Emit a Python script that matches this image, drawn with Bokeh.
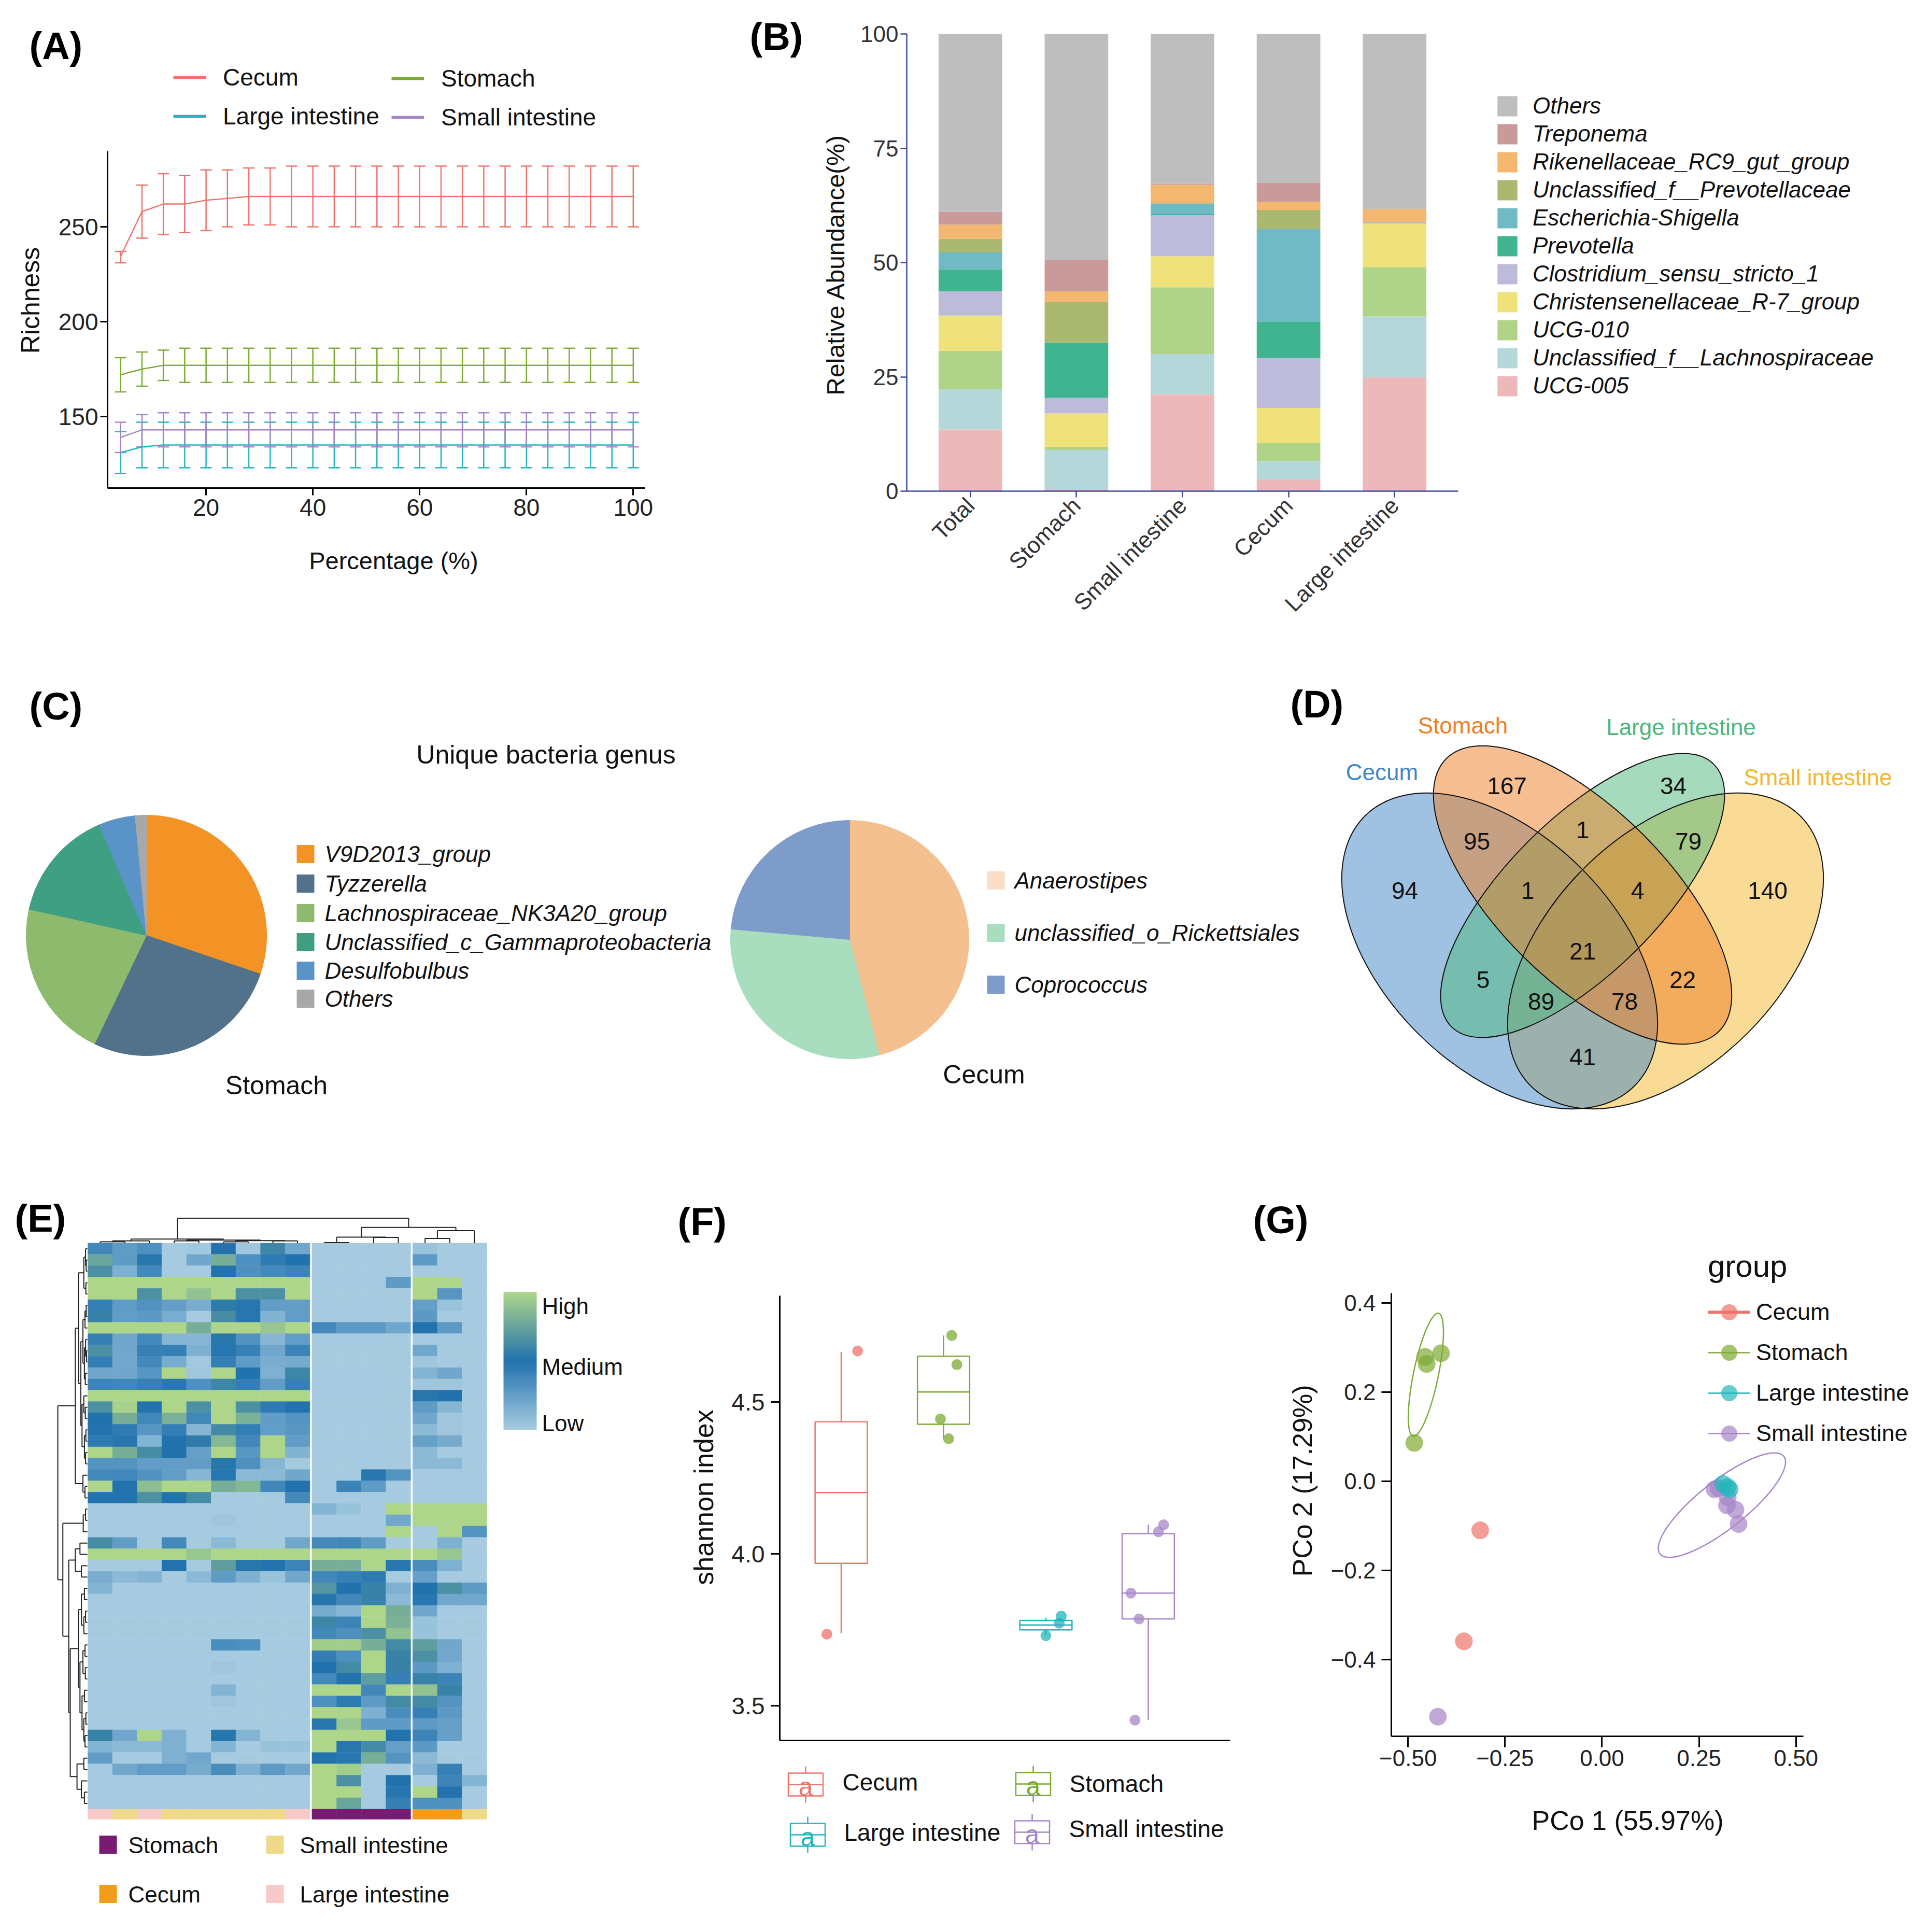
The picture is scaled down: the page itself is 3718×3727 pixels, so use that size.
import numpy as np
from math import pi
from bokeh.plotting import figure
from bokeh.layouts import row, column
from bokeh.models import (Range1d, FixedTicker, Legend, LegendItem, Label, Whisker, TeeHead,
                          ColumnDataSource, LinearColorMapper, ColorBar, CustomJSTickFormatter)
from bokeh.core.properties import value
from bokeh.embed import file_html
from bokeh.resources import INLINE

FONT = "Liberation Sans"

# ================================================================ DATA
tissues = ["Cecum", "Stomach", "Large intestine", "Small intestine"]
tissue_colors = ["#EE746B", "#7CAA32", "#22B6BC", "#A585C8"]
TC = dict(zip(tissues, tissue_colors))

# ---- (A) rarefaction curves
a_pct = [4, 8, 12, 16, 20, 24, 28, 32, 36, 40, 44, 48, 52, 56, 60, 64, 68, 72, 76, 80, 84, 88, 92, 96, 100]
a_cecum_mean = [234.5, 258, 262, 262, 264,
                265, 266, 266, 266, 266,
                266, 266, 266, 266, 266,
                266, 266, 266, 266, 266,
                266, 266, 266, 266, 266]
a_cecum_hi = [237, 272, 278, 277, 280,
              280, 281, 281, 282, 282,
              282, 282, 282, 282, 282,
              282, 282, 282, 282, 282,
              282, 282, 282, 282, 282]
a_cecum_lo = [231, 244, 246, 247, 248,
              250, 251, 251, 250, 250,
              250, 250, 250, 250, 250,
              250, 250, 250, 250, 250,
              250, 250, 250, 250, 250]
a_stomach_mean = [172, 175, 177, 177, 177,
                  177, 177, 177, 177, 177,
                  177, 177, 177, 177, 177,
                  177, 177, 177, 177, 177,
                  177, 177, 177, 177, 177]
a_stomach_hi = [181, 184, 185, 186, 186,
                186, 186, 186, 186, 186,
                186, 186, 186, 186, 186,
                186, 186, 186, 186, 186,
                186, 186, 186, 186, 186]
a_stomach_lo = [163, 166, 169, 168, 168,
                168, 168, 168, 168, 168,
                168, 168, 168, 168, 168,
                168, 168, 168, 168, 168,
                168, 168, 168, 168, 168]
a_large_mean = [131, 134, 135, 135, 135,
                135, 135, 135, 135, 135,
                135, 135, 135, 135, 135,
                135, 135, 135, 135, 135,
                135, 135, 135, 135, 135]
a_large_hi = [142, 147, 147, 147, 147,
              147, 147, 147, 147, 147,
              147, 147, 147, 147, 147,
              147, 147, 147, 147, 147,
              147, 147, 147, 147, 147]
a_large_lo = [120, 123, 123, 123, 123,
              123, 123, 123, 123, 123,
              123, 123, 123, 123, 123,
              123, 123, 123, 123, 123,
              123, 123, 123, 123, 123]
a_small_mean = [139, 143, 143, 143, 143,
                143, 143, 143, 143, 143,
                143, 143, 143, 143, 143,
                143, 143, 143, 143, 143,
                143, 143, 143, 143, 143]
a_small_hi = [147, 151, 152, 152, 152,
              152, 152, 152, 152, 152,
              152, 152, 152, 152, 152,
              152, 152, 152, 152, 152,
              152, 152, 152, 152, 152]
a_small_lo = [131, 134, 134, 134, 134,
              134, 134, 134, 134, 134,
              134, 134, 134, 134, 134,
              134, 134, 134, 134, 134,
              134, 134, 134, 134, 134]

# ---- (B) relative abundance (stack order bottom -> top)
b_cats = ["Total", "Stomach", "Small intestine", "Cecum", "Large intestine"]
b_genera = ["UCG-005", "Unclassified_f__Lachnospiraceae", "UCG-010", "Christensenellaceae_R-7_group",
            "Clostridium_sensu_stricto_1", "Prevotella", "Escherichia-Shigella",
            "Unclassified_f__Prevotellaceae", "Rikenellaceae_RC9_gut_group", "Treponema", "Others"]
b_ucg005 = [13.5, 0.45, 21.2, 2.6, 24.9]
b_lachno = [8.9, 8.55, 8.8, 4.0, 13.3]
b_ucg010 = [8.3, 0.7, 14.6, 4.0, 10.8]
b_christ = [7.7, 7.3, 6.8, 7.6, 9.5]
b_clost = [5.3, 3.4, 9.0, 10.9, 0.2]
b_prevotella = [4.8, 12.1, 0.2, 8.0, 0.0]
b_escher = [3.7, 0.0, 2.3, 20.2, 0.1]
b_uprev = [3.0, 8.9, 0.2, 4.2, 0.0]
b_riken = [3.1, 2.3, 3.9, 1.8, 2.9]
b_trep = [2.8, 6.9, 0.2, 4.1, 0.0]
b_others = [38.9, 49.4, 32.8, 32.6, 38.3]
b_colors = ["#EDB8BA", "#B4D8DA", "#AFD488", "#EFE27A", "#BDBBDA", "#40B490",
            "#6FBAC5", "#AAB96F", "#F3B76F", "#C99A9A", "#BEBEBE"]

# ---- (C) unique genera pies
c_stomach_genus = ["V9D2013_group", "Tyzzerella", "Lachnospiraceae_NK3A20_group",
                   "Unclassified_c_Gammaproteobacteria", "Desulfobulbus", "Others"]
c_stomach_pct = [30.2, 26.9, 21.4, 15.1, 4.9, 1.5]
c_stomach_colors = ["#F39325", "#52718B", "#8DBA6C", "#3E9F83", "#5A93C8", "#A8A8A8"]
c_cecum_genus = ["Anaerostipes", "unclassified_o_Rickettsiales", "Coprococcus"]
c_cecum_pct = [46.0, 30.4, 23.6]
c_cecum_colors = ["#F5C08F", "#A8DDBE", "#7D9CC9"]
c_cecum_key_colors = ["#FADDC6", "#A8DDBE", "#7D9CC9"]

# ---- (D) Venn counts
d_sets = ["Cecum", "Stomach", "Large intestine", "Small intestine"]
d_colors = ["#3F86C8", "#EE7D23", "#4DB57B", "#F3B72C"]
d_regions = ["C", "S", "L", "Sm", "C&S", "S&L", "L&Sm", "C&S&L", "S&L&Sm", "C&S&L&Sm",
             "C&L", "S&Sm", "C&L&Sm", "C&S&Sm", "C&Sm"]
d_counts = [94, 167, 34, 140, 95, 1, 79, 1, 4, 21, 5, 22, 89, 78, 41]

# ---- (E) heatmap (rows top->bottom, columns left->right)
e_col_tissue = ["Large intestine", "Small intestine", "Large intestine", "Small intestine",
                "Small intestine", "Small intestine", "Small intestine", "Small intestine",
                "Large intestine", "Stomach", "Stomach", "Stomach", "Stomach",
                "Cecum", "Cecum", "Small intestine"]
e_col_cluster = [0, 0, 0, 0, 0, 0, 0, 0, 0, 1, 1, 1, 1, 2, 2, 2]
e_tissue_colors = {"Stomach": "#781C73", "Small intestine": "#EFD98A",
                   "Cecum": "#F39C1B", "Large intestine": "#F7C9C8"}
e_values = [
    [0.38, 0.27, 0.33, 0.00, 0.02, 0.50, 0.03, 0.60, 0.20, 0, 0, 0, 0, 0.05, 0, 0],
    [0.75, 0.27, 0.52, 0.00, 0.20, 0.80, 0.33, 0.45, 0.50, 0, 0, 0, 0, 0.27, 0, 0],
    [0.65, 0.15, 0.37, 0.00, 0.00, 0.50, 0.33, 0.37, 0.40, 0, 0, 0, 0, 0, 0, 0],
    [1, 1, 1, 1, 1, 1, 1, 1, 1, 0, 0, 0, 0.27, 1, 1, 0],
    [1, 1, 0.65, 1, 0.90, 1, 0.65, 0.65, 1, 0, 0, 0, 0, 1, 0.30, 0],
    [0.43, 0.27, 0.32, 0.25, 0.17, 0.55, 0.48, 0.26, 0.25, 0, 0, 0, 0, 0.25, 0.05, 0],
    [0.58, 0.26, 0.28, 0.17, 0.00, 0.63, 0.48, 0.14, 0.26, 0, 0, 0, 0, 0.28, 0, 0],
    [1, 1, 1, 1, 0.80, 1, 1, 0.92, 1, 0.37, 0.28, 0.28, 0.20, 0.50, 0.28, 0],
    [0.42, 0.20, 0.37, 0.12, 0.12, 0.53, 0.32, 0.12, 0.26, 0, 0, 0, 0, 0, 0, 0],
    [0.65, 0.20, 0.42, 0.42, 0.15, 0.48, 0.42, 0.20, 0.40, 0, 0, 0, 0, 0.20, 0, 0],
    [0.43, 0.20, 0.37, 0.17, 0.02, 0.43, 0.27, 0.17, 0.18, 0, 0, 0, 0, 0.03, 0, 0],
    [0.20, 0.20, 0.30, 1, 0.03, 1, 0.50, 0.15, 0.60, 0, 0, 0, 0, 0.13, 0.20, 0],
    [0.40, 0.38, 0.42, 0.47, 0.33, 0.60, 0.43, 0.26, 0.42, 0, 0, 0, 0, 0.03, 0.03, 0],
    [1, 1, 1, 1, 1, 1, 1, 1, 1, 0, 0, 0, 0, 0.52, 0.50, 0],
    [0.65, 0.98, 0.50, 1, 0.65, 1, 0.65, 0.45, 0.50, 0, 0, 0, 0, 0.27, 0.12, 0],
    [0.50, 0.80, 0.38, 0.82, 0.38, 1, 0.82, 0.26, 0.31, 0, 0, 0, 0, 0.20, 0.03, 0],
    [0.50, 0.45, 0.30, 0.43, 0.12, 0.62, 0.43, 0.26, 0.29, 0, 0, 0, 0, 0.10, 0.03, 0],
    [0.45, 0.52, 0.14, 0.50, 0.55, 0.85, 0.38, 1, 0.26, 0, 0, 0, 0, 0.24, 0.18, 0],
    [1, 0.80, 0.63, 0.50, 0.24, 1, 0.29, 1, 0.14, 0, 0, 0, 0, 0.10, 0, 0],
    [0.31, 0.31, 0.26, 0.26, 0.26, 0.53, 0.33, 0.12, 0.01, 0, 0, 0, 0, 0.10, 0.10, 0],
    [0.37, 0.38, 0.32, 0.26, 0.12, 0.48, 0.10, 0.10, 0.20, 0, 0, 0.47, 0.31, 0, 0, 0],
    [1, 0.50, 0.88, 1, 1, 0.80, 0.85, 0.38, 0.50, 0, 0.40, 0.27, 0, 0, 0, 0],
    [0.50, 0.50, 0.65, 0.50, 0.63, 0, 0, 0, 0.37, 0, 0, 0, 0, 0, 0, 0],
    [0, 0, 0, 0, 0, 0, 0, 0, 0, 0.13, 0.05, 0, 1, 1, 1, 1],
    [0, 0, 0, 0, 0, 0.03, 0, 0, 0, 0, 0, 0, 0.20, 1, 1, 1],
    [0, 0, 0, 0, 0, 0, 0, 0, 0, 0, 0, 0, 1, 0, 1, 0.31],
    [0.63, 0.26, 0, 0.37, 0, 0.10, 0, 0, 0.20, 0.37, 0.38, 0.27, 0, 0, 0.15, 0],
    [1, 1, 1, 1, 0.92, 1, 1, 1, 1, 1, 1, 1, 1, 1, 0.92, 0],
    [0, 0, 0, 0.50, 0, 0.72, 0.52, 0.50, 0.40, 0.80, 0.80, 1, 0.47, 0.35, 0.15, 0],
    [0.17, 0.10, 0.13, 0, 0.10, 0.27, 0.15, 0.05, 0.20, 0.38, 0.42, 0.45, 0, 0.24, 0, 0],
    [0.13, 0, 0, 0, 0, 0, 0, 0, 0, 0.68, 0.50, 0.58, 0.15, 0.50, 0.65, 0.27],
    [0, 0, 0, 0, 0, 0, 0, 0, 0, 0.48, 0.38, 0.58, 0.10, 0.47, 0.20, 0.20],
    [0, 0, 0, 0, 0, 0, 0, 0, 0, 0.18, 0.12, 1, 0.80, 0.20, 0, 0],
    [0, 0, 0, 0, 0, 0, 0, 0, 0, 0.60, 0.40, 1, 0.82, 0.05, 0, 0],
    [0, 0, 0, 0, 0, 0, 0, 0, 0, 0.38, 0.33, 0.65, 0.90, 0.05, 0, 0],
    [0, 0, 0, 0, 0, 0.35, 0.33, 0, 0, 0.95, 0.95, 0.80, 0.62, 0.72, 0.20, 0],
    [0, 0, 0, 0, 0, 0, 0, 0, 0, 0.43, 0.33, 1, 0.58, 0.65, 0.20, 0],
    [0, 0, 0, 0, 0, 0.03, 0, 0, 0, 0.50, 0.62, 1, 0.58, 0.28, 0.15, 0],
    [0, 0, 0, 0, 0, 0, 0, 0, 0, 0.37, 0.50, 0.72, 0.42, 0.58, 0.40, 0],
    [0, 0, 0, 0, 0, 0.13, 0, 0, 0, 1, 1, 0.38, 1, 0.90, 0.58, 0],
    [0, 0, 0, 0, 0, 0.03, 0, 0, 0, 0.33, 0.45, 0.27, 0.62, 0.62, 0.31, 0],
    [0, 0, 0, 0, 0, 0, 0, 0, 0, 1, 1, 0.15, 0.35, 0.42, 0.28, 0],
    [0, 0, 0, 0, 0, 0, 0, 0, 0, 0.52, 0.92, 0.27, 0.27, 0.27, 0.24, 0],
    [0.58, 0.20, 1, 0.15, 0, 0.52, 0.13, 0, 0, 1, 1, 1, 0.50, 0.40, 0.24, 0],
    [0.13, 0.10, 0.10, 0.15, 0, 0.13, 0, 0.05, 0.05, 1, 0.52, 0.62, 0.24, 0.28, 0, 0],
    [0.26, 0, 0, 0.15, 0.20, 0, 0, 0, 0, 0.50, 0.47, 0.80, 0.31, 0.10, 0, 0],
    [0, 0.20, 0.26, 0.26, 0.18, 0.35, 0.15, 0.28, 0.20, 1, 0.95, 0, 0, 0.15, 0.42, 0],
    [0, 0, 0, 0, 0, 0, 0, 0, 0, 1, 0.65, 0, 0.50, 0, 0.40, 0.13],
    [0, 0, 0, 0, 0, 0, 0, 0, 0, 1, 1, 0, 0.48, 1, 0.50, 0],
    [0, 0, 0, 0, 0, 0, 0, 0, 0, 1, 0.75, 0, 0.42, 0.33, 0.33, 0],
]
# dendrograms: [height, left, right], leaves = index
e_col_tree = [1.0,
              [0.16, [0.09, [0.05, 0, 1], 2], [0.12, [0.09, 3, 4], [0.10, [0.05, 5, 6], [0.09, 7, 8]]]],
              [0.63, [0.24, [0.02, 9, 10], [0.23, 11, 12]], [0.50, [0.19, 13, 14], 15]]]
_rA = [0.12, [0.06, 0, [0.04, 1, 2]], [0.05, 3, 4]]
_rB = [0.22, [0.15, [0.08, [0.04, 5, 6], 7], [0.10, [0.06, 8, [0.03, 9, 10]], [0.07, 11, 12]]],
       [0.18, [0.12, 13, [0.07, 14, 15]], [0.10, [0.05, 16, 17], [0.06, 18, 19]]]]
_rC = [0.15, 20, [0.08, 21, 22]]
_rD = [0.14, [0.06, 23, 24], 25]
_rF = [0.41, [0.25, 26, 27], [0.20, 28, 29]]
_rH = [0.30, [0.20, [0.10, 30, 31], [0.12, [0.06, 32, 33], 34]],
       [0.25, [0.15, [0.08, 35, 36], [0.07, 37, 38]], [0.18, [0.10, 39, 40], [0.12, [0.05, 41, 42], [0.08, 43, 44]]]]]
_rI = [0.35, [0.12, 45, 46], [0.20, 47, [0.10, 48, 49]]]
e_row_tree = [1.0, [0.41, [0.30, _rA, _rB], _rC], [0.83, _rD, [0.63, _rF, [0.58, _rH, _rI]]]]

# ---- (F) shannon boxplots
f_groups = ["Cecum", "Stomach", "Large intestine", "Small intestine"]
f_lo = [3.739, 4.380, 3.731, 3.453]
f_q1 = [3.969, 4.427, 3.750, 3.786]
f_med = [4.202, 4.533, 3.766, 3.871]
f_q3 = [4.435, 4.651, 3.781, 4.067]
f_hi = [4.665, 4.719, 3.790, 4.096]
f_pt_group = [0, 0, 1, 1, 1, 1, 2, 2, 2, 3, 3, 3, 3, 3]
f_pt_jitter = [0.16, -0.14, 0.08, 0.13, -0.03, 0.05, 0.15, 0.13, 0.0, 0.15, 0.10, -0.17, -0.09, -0.13]
f_pt_y = [4.668, 3.736, 4.719, 4.623, 4.444, 4.379, 3.795, 3.772, 3.731, 4.096, 4.073, 3.871, 3.786, 3.453]

# ---- (G) PCoA
g_cecum_x, g_cecum_y = [-0.314, -0.356], [-0.110, -0.359]
g_stomach_x, g_stomach_y = [-0.456, -0.452, -0.415, -0.484], [0.279, 0.263, 0.287, 0.086]
g_large_x, g_large_y = [0.312, 0.324, 0.329], [-0.006, -0.013, -0.018]
g_small_x = [-0.423, 0.290, 0.300, 0.324, 0.322, 0.344, 0.352]
g_small_y = [-0.528, -0.018, -0.015, -0.036, -0.054, -0.064, -0.096]
# confidence ellipses: centre + two semi-axis vectors (data units)
g_ell_stomach = [-0.454, 0.239, 0.0327, 0.1378, 0.0314, -0.0057]
g_ell_small = [0.309, -0.0535, 0.1595, 0.1093, -0.0379, 0.0421]

# ================================================================ HELPERS
def make_fig(w, h, xr, yr, axes=True):
    kw = dict(width=w, height=h, x_range=xr, y_range=yr, output_backend="svg",
              toolbar_location=None, min_border=0, title=None)
    if not axes:
        kw.update(x_axis_location=None, y_axis_location=None)
    p = figure(**kw)
    p.outline_line_color = None
    p.xgrid.grid_line_color = None
    p.ygrid.grid_line_color = None
    p.background_fill_color = "white"
    p.border_fill_color = "white"
    return p


def axes_fig(canvas, frame, xr, yr):
    """Whole canvas is the Bokeh frame; axes are pinned (fixed_location) at the data box."""
    cx0, cy0, cw, ch = canvas
    fl, fr, ft, fb = frame
    kx = (xr[1] - xr[0]) / (fr - fl)
    ky = (yr[1] - yr[0]) / (fb - ft)
    X0 = xr[0] - (fl - cx0) * kx
    X1 = xr[1] + (cx0 + cw - fr) * kx
    Y0 = yr[0] - (cy0 + ch - fb) * ky
    Y1 = yr[1] + (ft - cy0) * ky
    p = make_fig(cw, ch, Range1d(X0, X1), Range1d(Y0, Y1))
    p.xaxis.fixed_location = yr[0]
    p.xaxis.bounds = tuple(xr)
    p.yaxis.fixed_location = xr[0]
    p.yaxis.bounds = tuple(yr)
    m = lambda X, Y: (xr[0] + (X - fl) * kx, yr[0] + (fb - Y) * ky)
    loc = lambda X, Y: (int(round(X - cx0)), int(round(cy0 + ch - Y)))
    far = (X0 - 1000 * (X1 - X0), Y0 - 1000 * (Y1 - Y0))   # off-canvas spot for legend-only glyphs
    return p, m, loc, far


def add_label(p, m, text, X, Y, size, align="center", angle=0.0, style="normal", color="#111111"):
    x, y = m(X, Y)
    p.add_layout(Label(x=x, y=y, text=text, text_font=FONT, text_font_size=f"{size}px",
                       text_font_style=style, text_color=color, text_align=align,
                       text_baseline="middle", angle=angle))


def style_axis(ax, color="#000000", lw=3, tick_out=14, size=46, lcolor="#222222", standoff=6):
    ax.axis_line_color = color
    ax.axis_line_width = lw
    ax.major_tick_line_color = color
    ax.major_tick_line_width = lw
    ax.major_tick_out = tick_out
    ax.major_tick_in = 0
    ax.minor_tick_line_color = None
    ax.major_label_text_font = FONT
    ax.major_label_text_font_size = f"{size}px"
    ax.major_label_text_color = lcolor
    ax.major_label_standoff = standoff


def style_legend(lg, size, gw, gh, spacing, standoff, italic=False):
    lg.label_text_font = FONT
    lg.label_text_font_size = f"{size}px"
    lg.label_text_font_style = "italic" if italic else "normal"
    lg.label_text_color = "#111111"
    lg.glyph_width = int(gw)
    lg.glyph_height = int(gh)
    lg.label_height = int(gh)
    lg.spacing = int(spacing)
    lg.padding = 0
    lg.margin = 0
    lg.label_standoff = int(standoff)
    lg.border_line_color = None
    lg.background_fill_alpha = 0


PANEL = 74

# ================================================================ PANEL A
a_xr, a_yr = (1.55, 102.2), (112.3, 289.9)
pA, mA, locA, farA = axes_fig((8, 8, 1432, 1232), (215, 1252, 299, 949), a_xr, a_yr)
a_series = [("Cecum", a_cecum_mean, a_cecum_lo, a_cecum_hi),
            ("Large intestine", a_large_mean, a_large_lo, a_large_hi),
            ("Small intestine", a_small_mean, a_small_lo, a_small_hi),
            ("Stomach", a_stomach_mean, a_stomach_lo, a_stomach_hi)]
a_dummy = {}
for name, mean, lo, hi in a_series:
    c = TC[name]
    src = ColumnDataSource(dict(x=a_pct, m=mean, lo=lo, hi=hi))
    pA.add_layout(Whisker(source=src, base="x", lower="lo", upper="hi", line_color=c, line_width=2.5,
                          lower_head=TeeHead(size=22, line_color=c, line_width=2.5),
                          upper_head=TeeHead(size=22, line_color=c, line_width=2.5)))
    pA.line("x", "m", source=src, line_color=c, line_width=2.5)
    a_dummy[name] = pA.line([farA[0], farA[0] + 1], [farA[1], farA[1]], line_color=c, line_width=6)
style_axis(pA.xaxis[0], standoff=7)
style_axis(pA.yaxis[0], standoff=4)
pA.xaxis.ticker = FixedTicker(ticks=[20, 40, 60, 80, 100])
pA.yaxis.ticker = FixedTicker(ticks=[150, 200, 250])
legA1 = Legend(items=[LegendItem(label="Cecum", renderers=[a_dummy["Cecum"]]),
                      LegendItem(label="Large intestine", renderers=[a_dummy["Large intestine"]])],
               location=locA(342, 259))
legA2 = Legend(items=[LegendItem(label="Stomach", renderers=[a_dummy["Stomach"]]),
                      LegendItem(label="Small intestine", renderers=[a_dummy["Small intestine"]])],
               location=locA(763, 261))
for lg in (legA1, legA2):
    style_legend(lg, 46, 63, 52, 21, 33)
    pA.add_layout(lg)
add_label(pA, mA, "Richness", 66, 587, 50, angle=pi / 2)
add_label(pA, mA, "Percentage (%)", 767, 1089, 47)
add_label(pA, mA, "(A)", 64, 96, PANEL, align="left", style="bold", color="#000000")

# ================================================================ PANEL B
b_xr, b_yr = (-0.6, 4.6), (0, 100)
pB, mB, locB, farB = axes_fig((1440, 8, 2270, 1232), (1757, 2821, 73, 955), b_xr, b_yr)
b_vals = [b_ucg005, b_lachno, b_ucg010, b_christ, b_clost, b_prevotella, b_escher, b_uprev, b_riken, b_trep, b_others]
b_src = ColumnDataSource(dict(x=list(range(len(b_cats))), **{g: v for g, v in zip(b_genera, b_vals)}))
b_rs = pB.vbar_stack(b_genera, x="x", width=0.6, source=b_src, fill_color=b_colors, line_color=None)
NAVY = "#3B4A96"
style_axis(pB.xaxis[0], color=NAVY, lw=2.5, tick_out=12, size=44, lcolor="#333333", standoff=8)
style_axis(pB.yaxis[0], color=NAVY, lw=2.5, tick_out=12, size=44, lcolor="#333333", standoff=4)
pB.xaxis.ticker = FixedTicker(ticks=list(range(len(b_cats))))
pB.xaxis.major_label_overrides = {i: c for i, c in enumerate(b_cats)}
pB.xaxis.major_label_orientation = pi / 4
pB.yaxis.ticker = FixedTicker(ticks=[0, 25, 50, 75, 100])
legB = Legend(items=[LegendItem(label=g, renderers=[r]) for g, r in reversed(list(zip(b_genera, b_rs)))],
              location=locB(2892, 777))
style_legend(legB, 44, 48, 49, 4, 25, italic=True)
pB.add_layout(legB)
add_label(pB, mB, "Relative Abundance(%)", 1620, 518, 48, angle=pi / 2)
add_label(pB, mB, "(B)", 1454, 78, PANEL, align="left", style="bold", color="#000000")

# ================================================================ PANELS C + D (no axes)
pCD = make_fig(3702, 1020, Range1d(8, 3710), Range1d(-2260, -1240), axes=False)
mCD = lambda X, Y: (X, -Y)


def pie(p, cx, cy, r, pct, colors):
    frac = np.array(pct, dtype=float) / float(sum(pct))
    cum = np.concatenate([[0.0], np.cumsum(frac)])
    p.wedge(x=cx, y=-cy, radius=r, start_angle=pi / 2 - 2 * pi * cum[1:],
            end_angle=pi / 2 - 2 * pi * cum[:-1], direction="anticlock",
            fill_color=colors, line_color=colors, line_width=1)


pie(pCD, 290, 1812, 232, c_stomach_pct, c_stomach_colors)
pie(pCD, 1647, 1820, 230, c_cecum_pct, c_cecum_colors)


def key_list(p, names, colors, X, rowsY, tx, size=44):
    p.rect(x=[X] * len(names), y=[-y for y in rowsY], width=34, height=35,
           fill_color=colors, line_color=None)
    p.text(x=[tx] * len(names), y=[-y for y in rowsY], text=names, text_font=value(FONT),
           text_font_size=value(f"{size}px"), text_font_style="italic", text_color="#111111",
           text_align="left", text_baseline="middle")


key_list(pCD, c_stomach_genus, c_stomach_colors, 597, [1655, 1712, 1769, 1825, 1880, 1934], 634)
key_list(pCD, c_cecum_genus, c_cecum_key_colors, 1929, [1706, 1807, 1907], 1965)
add_label(pCD, mCD, "Unique bacteria genus", 1061, 1463, 50)
add_label(pCD, mCD, "Stomach", 541, 2101, 50)
add_label(pCD, mCD, "Cecum", 1906, 2080, 50)
add_label(pCD, mCD, "(C)", 64, 1370, PANEL, align="left", style="bold", color="#000000")
add_label(pCD, mCD, "(D)", 2497, 1366, PANEL, align="left", style="bold", color="#000000")

# Venn layout (pixel geometry of the 4 ellipses; counts come from d_counts)
venn_cx = [2901, 3061, 3061, 3221]
venn_cy = [1842, 1734, 1735, 1842]
venn_a = [368, 372, 358, 368]
venn_b = [224, 165, 148, 224]
venn_ang = [-pi / 4, -pi / 4, pi / 4, pi / 4]
venn_order = [3, 0, 2, 1]
for i in venn_order:
    pCD.ellipse(x=venn_cx[i], y=-venn_cy[i], width=2 * venn_a[i], height=2 * venn_b[i],
                angle=venn_ang[i], fill_color=d_colors[i], fill_alpha=0.5, line_color=None)
for i in range(4):
    pCD.ellipse(x=venn_cx[i], y=-venn_cy[i], width=2 * venn_a[i], height=2 * venn_b[i],
                angle=venn_ang[i], fill_color=None, line_color="#111111", line_width=2)
venn_lab_xy = [(2718, 1725), (2915, 1523), (3236, 1523), (3418, 1725), (2857, 1630), (3061, 1608),
               (3265, 1630), (2955, 1725), (3167, 1725), (3061, 1842), (2869, 1897), (3254, 1897),
               (2981, 1939), (3142, 1939), (3061, 2046)]
pCD.text(x=[p[0] for p in venn_lab_xy], y=[-p[1] for p in venn_lab_xy], text=[str(c) for c in d_counts],
         text_font=value(FONT), text_font_size=value("46px"), text_color="#111111",
         text_align="center", text_baseline="middle")
venn_set_xy = [(2674, 1497), (2830, 1407), (3251, 1410), (3515, 1507)]
for (X, Y), name, col in zip(venn_set_xy, d_sets, d_colors):
    add_label(pCD, mCD, name, X, Y, 44, color=col)

# ================================================================ PANEL E (heatmap)
CW, RH = 47.6, 21.84
EX0, EY0 = 177, 2405.5
GAP = 4 / CW
ux = lambda X: (X - EX0) / CW
uy = lambda Y: -(Y - EY0) / RH
pE = make_fig(1242, 1459, Range1d(ux(8), ux(1250)), Range1d(uy(3719), uy(2260)), axes=False)
mE = lambda X, Y: (ux(X), uy(Y))

pal_anchor = np.array([[0xA6, 0xCB, 0xE0], [0x21, 0x72, 0xAE], [0xAE, 0xD6, 0x8A]], dtype=float)
tt = np.linspace(0, 1, 256)
pal = []
for t in tt:
    if t <= 0.5:
        c = pal_anchor[0] + (pal_anchor[1] - pal_anchor[0]) * (t / 0.5)
    else:
        c = pal_anchor[1] + (pal_anchor[2] - pal_anchor[1]) * ((t - 0.5) / 0.5)
    pal.append("#%02x%02x%02x" % tuple(int(round(v)) for v in c))
cmap = LinearColorMapper(palette=pal, low=0, high=1)

n_rows, n_cols = len(e_values), len(e_values[0])
col_x = [c + 0.5 + GAP * e_col_cluster[c] for c in range(n_cols)]
hx, hy, hv = [], [], []
for r in range(n_rows):
    for c in range(n_cols):
        hx.append(col_x[c]); hy.append(-(r + 0.5)); hv.append(e_values[r][c])
hsrc = ColumnDataSource(dict(x=hx, y=hy, v=hv))
pE.rect("x", "y", width=1.0, height=1.0, source=hsrc,
        fill_color={"field": "v", "transform": cmap},
        line_color={"field": "v", "transform": cmap}, line_width=0.6)
# annotation bar
pE.rect(x=col_x, y=-(n_rows + 0.45), width=1.0, height=0.89,
        fill_color=[e_tissue_colors[t] for t in e_col_tissue],
        line_color=[e_tissue_colors[t] for t in e_col_tissue], line_width=0.6)


def dendro(node, leafpos):
    segs = []

    def rec(n):
        if isinstance(n, int):
            return leafpos[n], 0.0
        h, l, r = n
        pl, hl = rec(l)
        pr, hr = rec(r)
        segs.append((pl, hl, pl, h))
        segs.append((pr, hr, pr, h))
        segs.append((pl, h, pr, h))
        return 0.5 * (pl + pr), h

    rec(node)
    return segs


HS = 48 / RH   # column dendrogram full height (units)
WS = 57 / CW   # row dendrogram full width (units)
cs = dendro(e_col_tree, col_x)
pE.segment(x0=[s[0] for s in cs], y0=[s[1] * HS for s in cs], x1=[s[2] for s in cs],
           y1=[s[3] * HS for s in cs], line_color="#222222", line_width=2)
row_y = [-(r + 0.5) for r in range(n_rows)]
rs_ = dendro(e_row_tree, row_y)
pE.segment(x0=[-s[1] * WS - 0.02 for s in rs_], y0=[s[0] for s in rs_], x1=[-s[3] * WS - 0.02 for s in rs_],
           y1=[s[2] for s in rs_], line_color="#222222", line_width=2)

cb = ColorBar(color_mapper=cmap, orientation="vertical", width=64, height=266,
              location=(979 - 8, 3719 - 2766), padding=0, margin=0,
              ticker=FixedTicker(ticks=[0.05, 0.46, 0.9]),
              formatter=CustomJSTickFormatter(code="return tick < 0.25 ? 'Low' : (tick < 0.7 ? 'Medium' : 'High');"),
              major_label_text_font=FONT, major_label_text_font_size="44px",
              major_label_text_color="#111111", label_standoff=10,
              major_tick_line_color=None, minor_tick_line_color=None, bar_line_color=None,
              border_line_color=None, background_fill_alpha=0)
pE.add_layout(cb)
e_leg_names = ["Stomach", "Small intestine", "Cecum", "Large intestine"]
e_leg_sq = [(216, 3566), (538, 3566), (216, 3661), (538, 3661)]
e_leg_tx = [(255, 3567), (586, 3567), (255, 3662), (586, 3662)]
pE.rect(x=[ux(p[0]) for p in e_leg_sq], y=[uy(p[1]) for p in e_leg_sq], width=34 / CW, height=35 / RH,
        fill_color=[e_tissue_colors[n] for n in e_leg_names], line_color=None)
pE.text(x=[ux(p[0]) for p in e_leg_tx], y=[uy(p[1]) for p in e_leg_tx], text=e_leg_names,
        text_font=value(FONT), text_font_size=value("44px"), text_color="#111111",
        text_align="left", text_baseline="middle")
add_label(pE, mE, "(E)", 36, 2358, PANEL, align="left", style="bold", color="#000000")

# ================================================================ PANEL F
f_xr, f_yr = (0.4, 4.8), (3.386, 4.85)
pF, mF, locF, farF = axes_fig((1250, 2260, 1150, 1140), (1512, 2381, 2507, 3365), f_xr, f_yr)
fx = np.arange(1, len(f_groups) + 1, dtype=float)
fcol = [TC[g] for g in f_groups]
BW = 0.255
pF.segment(x0=fx, y0=f_q3, x1=fx, y1=f_hi, line_color=fcol, line_width=2.5)
pF.segment(x0=fx, y0=f_lo, x1=fx, y1=f_q1, line_color=fcol, line_width=2.5)
pF.quad(left=fx - BW, right=fx + BW, bottom=f_q1, top=f_q3, fill_color="white", line_color=fcol, line_width=2.5)
pF.segment(x0=fx - BW, y0=f_med, x1=fx + BW, y1=f_med, line_color=fcol, line_width=2.5)
pF.scatter(x=[fx[g] + j for g, j in zip(f_pt_group, f_pt_jitter)], y=f_pt_y, size=21,
           fill_color=[fcol[g] for g in f_pt_group], fill_alpha=0.75, line_color=None)
style_axis(pF.xaxis[0], tick_out=0, standoff=0)
style_axis(pF.yaxis[0], tick_out=17, standoff=12)
pF.xaxis.ticker = FixedTicker(ticks=[])
pF.yaxis.ticker = FixedTicker(ticks=[3.5, 4.0, 4.5])
pF.yaxis.formatter = CustomJSTickFormatter(code="return tick.toFixed(1);")
add_label(pF, mF, "shannon index", 1365, 2896, 52, angle=pi / 2)
add_label(pF, mF, "(F)", 1315, 2364, PANEL, align="left", style="bold", color="#000000")

# F legend (separate strip below the axes)
pFL = make_fig(1150, 319, Range1d(1250, 2400), Range1d(-3719, -3400), axes=False)
f_key_xy = [(1562, 3450), (2001, 3449), (1566, 3547), (1999, 3542)]
f_lab_xy = [(1633, 3445), (2071, 3448), (1636, 3542), (2070, 3535)]
kx = np.array([p[0] for p in f_key_xy], dtype=float)
ky = np.array([-p[1] for p in f_key_xy], dtype=float)
pFL.segment(x0=kx, y0=ky + 22, x1=kx, y1=ky + 35, line_color=fcol, line_width=2.5)
pFL.segment(x0=kx, y0=ky - 22, x1=kx, y1=ky - 35, line_color=fcol, line_width=2.5)
pFL.rect(x=kx, y=ky, width=67, height=44, fill_color="white", line_color=fcol, line_width=2.5)
pFL.segment(x0=kx - 33.5, y0=ky, x1=kx + 33.5, y1=ky, line_color=fcol, line_width=2.5)
pFL.text(x=kx, y=ky - 4, text=["a"] * 4, text_font=value(FONT), text_font_size=value("50px"),
         text_color=fcol, text_align="center", text_baseline="middle")
pFL.text(x=[p[0] for p in f_lab_xy], y=[-p[1] for p in f_lab_xy], text=f_groups,
         text_font=value(FONT), text_font_size=value("46px"), text_color="#111111",
         text_align="left", text_baseline="middle")

# ================================================================ PANEL G
g_xr, g_yr = (-0.543, 0.519), (-0.572, 0.422)
pG, mG, locG, farG = axes_fig((2400, 2260, 1310, 1459), (2692, 3487, 2502, 3357), g_xr, g_yr)
t = np.linspace(0, 2 * pi, 240)
for ell, name in ((g_ell_stomach, "Stomach"), (g_ell_small, "Small intestine")):
    cx, cy, uxv, uyv, vxv, vyv = ell
    pG.line(cx + uxv * np.cos(t) + vxv * np.sin(t), cy + uyv * np.cos(t) + vyv * np.sin(t),
            line_color=TC[name], line_width=2.5)
for name, xs, ys in (("Cecum", g_cecum_x, g_cecum_y), ("Stomach", g_stomach_x, g_stomach_y),
                     ("Small intestine", g_small_x, g_small_y), ("Large intestine", g_large_x, g_large_y)):
    pG.scatter(xs, ys, size=34, fill_color=TC[name], fill_alpha=0.7, line_color=None)
style_axis(pG.xaxis[0], tick_out=21, size=44, standoff=5)
style_axis(pG.yaxis[0], tick_out=19, size=44, standoff=11)
pG.xaxis.ticker = FixedTicker(ticks=[-0.5, -0.25, 0.0, 0.25, 0.5])
pG.yaxis.ticker = FixedTicker(ticks=[-0.4, -0.2, 0.0, 0.2, 0.4])
pG.xaxis.formatter = CustomJSTickFormatter(code="return tick.toFixed(2).replace('-', '\u2212');")
pG.yaxis.formatter = CustomJSTickFormatter(code="return tick.toFixed(1).replace('-', '\u2212');")
g_items = []
for name in tissues:
    lw = 6 if name == "Cecum" else 2.5
    rl = pG.line([farG[0], farG[0] + 1], [farG[1], farG[1]], line_color=TC[name], line_width=lw)
    rc = pG.scatter([farG[0]], [farG[1]], size=34, fill_color=TC[name], fill_alpha=0.7, line_color=None)
    g_items.append(LegendItem(label=name, renderers=[rl, rc]))
legG = Legend(items=g_items, location=locG(3303, 2812), title="group")
style_legend(legG, 45, 82, 78, 0, 11)
legG.title_text_font = FONT
legG.title_text_font_size = "60px"
legG.title_text_font_style = "normal"
legG.title_text_color = "#111111"
legG.title_standoff = 15
pG.add_layout(legG)
add_label(pG, mG, "PCo 1 (55.97%)", 3148, 3519, 52)
add_label(pG, mG, "PCo 2 (17.29%)", 2520, 2864, 52, angle=pi / 2)
add_label(pG, mG, "(G)", 2425, 2361, PANEL, align="left", style="bold", color="#000000")

# ================================================================ LAYOUT
layout = column(row(pA, pB), pCD, row(pE, column(pF, pFL), pG))
open("out.html", "w").write(file_html(layout, INLINE))
